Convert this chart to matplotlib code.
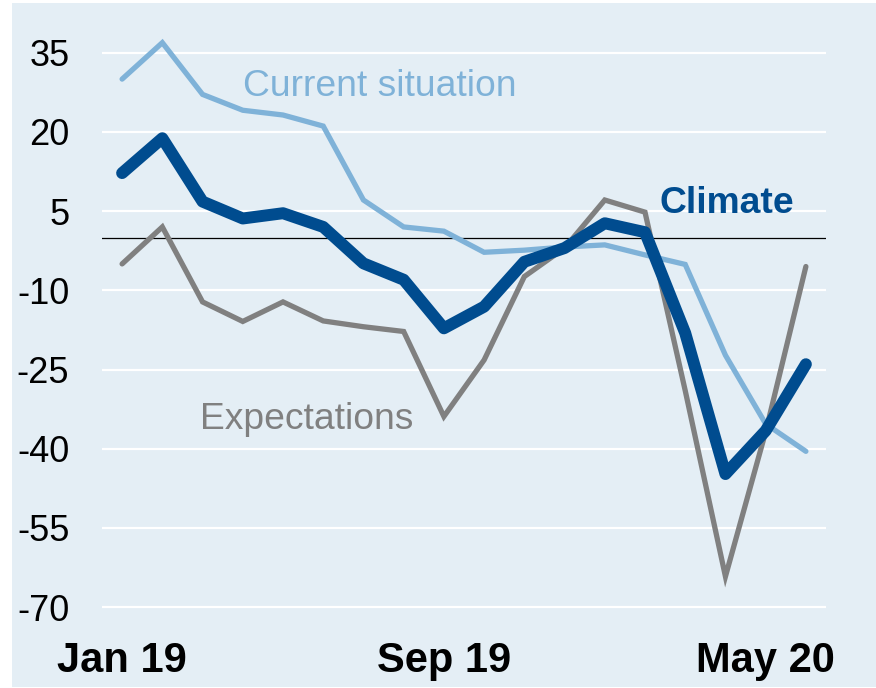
import matplotlib
matplotlib.use("Agg")
import matplotlib.pyplot as plt
from matplotlib.patches import Rectangle

months = ["Jan 19", "Feb 19", "Mar 19", "Apr 19", "May 19", "Jun 19", "Jul 19", "Aug 19",
          "Sep 19", "Oct 19", "Nov 19", "Dec 19", "Jan 20", "Feb 20", "Mar 20", "Apr 20",
          "May 20", "Jun 20"]
current = [30.0, 36.9, 27.1, 24.1, 23.2, 21.1, 7.1, 2.0, 1.2, -2.8, -2.4, -1.8, -1.4,
           -3.3, -5.1, -22.3, -35.3, -40.5]
climate = [12.2, 18.8, 6.8, 3.6, 4.6, 2.0, -4.9, -8.0, -17.2, -13.1, -4.6, -2.0, 2.7,
           1.0, -18.1, -44.8, -36.6, -24.0]
expect = [-5.0, 2.0, -12.2, -15.9, -12.2, -15.8, -16.9, -17.8, -33.9, -23.2, -7.4, -2.0,
          7.1, 4.8, -29.0, -64.2, -36.8, -5.5]
yticks = [35, 20, 5, -10, -25, -40, -55, -70]
xtick_labels = ["Jan 19", "Sep 19", "May 20"]

plt.rcParams['font.family'] = ['Liberation Sans', 'DejaVu Sans']

W, H = 876, 688
fig = plt.figure(figsize=(W / 100, H / 100), dpi=100, facecolor="white")
bg = "#E4EEF5"
fig.patches.append(Rectangle((12 / W, 1 / H), 1 - 12 / W, 1 - 4 / H,
                             transform=fig.transFigure, facecolor=bg, edgecolor="none", zorder=-5))

ylo, yhi = -72, 40
ppu = 5.28
y0 = 237.5
top_px = y0 - yhi * ppu
bot_px = y0 - ylo * ppu
ax = fig.add_axes([102 / W, 1 - bot_px / H, 724 / W, (bot_px - top_px) / H])
ax.set_facecolor("none")
ax.set_zorder(5)
ax.set_xlim(-0.5, 17.5)
ax.set_ylim(ylo, yhi)

for s in ax.spines.values():
    s.set_visible(False)

for t in yticks:
    ax.axhline(t, color="white", lw=1.6, zorder=1)
ax.axhline(0, color="black", lw=0.9, zorder=2)

x = list(range(len(months)))
ax.plot(x, current, color="#7FB2D8", lw=3.8, zorder=3, solid_joinstyle="miter", solid_capstyle="round")
ax.plot(x, expect, color="#808080", lw=3.8, zorder=3, solid_joinstyle="miter", solid_capstyle="round")
ax.plot(x, climate, color="#004C8F", lw=8.6, zorder=4, solid_joinstyle="round", solid_capstyle="round")

ax.set_yticks(yticks)
ax.set_yticklabels([str(v) for v in yticks], fontsize=26, color="black")
ax.tick_params(axis="y", length=0, pad=23.5)
xt = [months.index(m) for m in xtick_labels]
ax.set_xticks(xt)
ax.set_xticklabels(xtick_labels, fontsize=30, fontweight="bold", color="black")
ax.tick_params(axis="x", length=0, pad=16.5)

ax.text(3.0, 28.6, "Current situation", color="#7FB2D8", fontsize=26.8, va="center", ha="left")
ax.text(13.35, 6.4, "Climate", color="#004C8F", fontsize=26.8, fontweight="bold", va="center", ha="left")
ax.text(1.93, -34.5, "Expectations", color="#808080", fontsize=26.8, va="center", ha="left")

fig.savefig("out.png", dpi=100, facecolor="white")
